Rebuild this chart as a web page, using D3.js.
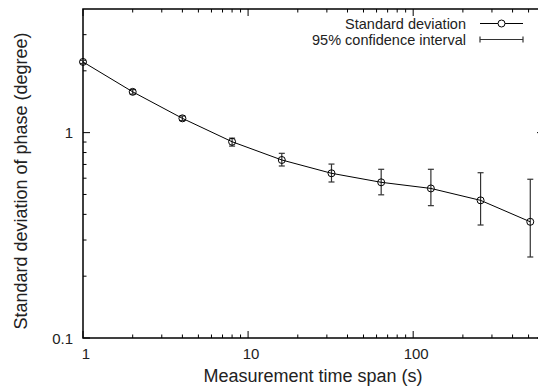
<!DOCTYPE html>
<html>
<head>
<meta charset="utf-8">
<script src="https://cdn.jsdelivr.net/npm/d3@7"></script>
<style>
  html, body { margin: 0; padding: 0; background: #fff; }
  svg { display: block; font-family: "Liberation Sans", Arial, Helvetica, sans-serif; }
</style>
</head>
<body>
<svg id="chart" width="538" height="387"></svg>
<script>
// Measurement time spans (s)
const spans = [1, 2, 4, 8, 16, 32, 64, 128, 256, 512];
// Standard deviation of phase (degree)
const stdDev = [2.21, 1.58, 1.174, 0.903, 0.736, 0.634, 0.573, 0.535, 0.468, 0.368];
// 95% confidence interval bounds
const ciLow  = [2.17, 1.54, 1.145, 0.86, 0.688, 0.575, 0.498, 0.441, 0.355, 0.248];
const ciHigh = [2.25, 1.62, 1.205, 0.94, 0.793, 0.703, 0.663, 0.663, 0.638, 0.593];
// Axis ticks
const xTickLabels = [1, 10, 100];
const yTickLabels = [0.1, 1];

const svg = d3.select("#chart");
const m = { left: 83, right: 544, top: 9, bottom: 338 };

const x = d3.scaleLog().domain([1, 620]).range([m.left, m.right]);
const y = d3.scaleLog().domain([0.1, 4]).range([m.bottom, m.top]);

const points = spans.map((s, i) => ({ s, v: stdDev[i], lo: ciLow[i], hi: ciHigh[i] }));

// minor ticks for a log scale, restricted to the domain
function minorTicks(scale) {
  const [a, b] = scale.domain();
  const out = [];
  for (let e = Math.floor(Math.log10(a)); e <= Math.ceil(Math.log10(b)); e++) {
    for (let k = 2; k <= 9; k++) {
      const v = k * Math.pow(10, e);
      if (v > a && v < b) out.push(v);
    }
  }
  return out;
}

const axisG = svg.append("g").attr("stroke", "#000").attr("stroke-width", 1);

// major and minor ticks, mirrored on opposite sides, pointing inward
const xTickSets = [
  ...xTickLabels.map(v => ({ v, len: 7 })), ...minorTicks(x).map(v => ({ v, len: 3.5 }))
];
xTickSets.forEach(t => {
  const px = x(t.v);
  axisG.append("line").attr("x1", px).attr("x2", px).attr("y1", m.bottom).attr("y2", m.bottom - t.len);
  axisG.append("line").attr("x1", px).attr("x2", px).attr("y1", m.top).attr("y2", m.top + t.len);
});
const yTickSets = [
  ...yTickLabels.map(v => ({ v, len: 7 })), ...minorTicks(y).map(v => ({ v, len: 3.5 }))
];
yTickSets.forEach(t => {
  const py = y(t.v);
  axisG.append("line").attr("x1", m.left).attr("x2", m.left + t.len).attr("y1", py).attr("y2", py);
  axisG.append("line").attr("x1", m.right).attr("x2", m.right - t.len).attr("y1", py).attr("y2", py);
});

// plot frame
svg.append("rect")
  .attr("x", m.left).attr("y", m.top)
  .attr("width", m.right - m.left).attr("height", m.bottom - m.top)
  .attr("fill", "none").attr("stroke", "#000").attr("stroke-width", 1.5);

// tick labels
svg.append("g").selectAll("text").data(xTickLabels).join("text")
  .attr("x", d => x(d) + 3).attr("y", 358.5)
  .attr("text-anchor", "middle").attr("font-size", 15).attr("fill", "#222")
  .text(d => d3.format("~g")(d));
svg.append("g").selectAll("text").data(yTickLabels).join("text")
  .attr("x", 73).attr("y", d => y(d) + 5.5)
  .attr("text-anchor", "end").attr("font-size", 15).attr("fill", "#222")
  .text(d => d3.format("~g")(d));

// axis titles
svg.append("text")
  .attr("x", 313).attr("y", 382)
  .attr("text-anchor", "middle").attr("font-size", 18).attr("fill", "#222")
  .text("Measurement time span (s)");
svg.append("text")
  .attr("transform", "translate(27, 181) rotate(-90)")
  .attr("text-anchor", "middle").attr("font-size", 18).attr("fill", "#222")
  .text("Standard deviation of phase (degree)");

// error bars
const cap = 3;
const eb = svg.append("g").attr("stroke", "#333").attr("stroke-width", 1.2);
points.forEach(p => {
  const px = x(p.s);
  eb.append("line").attr("x1", px).attr("x2", px).attr("y1", y(p.lo)).attr("y2", y(p.hi));
  eb.append("line").attr("x1", px - cap).attr("x2", px + cap).attr("y1", y(p.lo)).attr("y2", y(p.lo));
  eb.append("line").attr("x1", px - cap).attr("x2", px + cap).attr("y1", y(p.hi)).attr("y2", y(p.hi));
});

// line through the standard deviation values
svg.append("path")
  .datum(points)
  .attr("d", d3.line().x(d => x(d.s)).y(d => y(d.v)))
  .attr("fill", "none").attr("stroke", "#000").attr("stroke-width", 1);

// open circle markers
svg.append("g").selectAll("circle").data(points).join("circle")
  .attr("cx", d => x(d.s)).attr("cy", d => y(d.v)).attr("r", 3.5)
  .attr("fill", "none").attr("stroke", "#000").attr("stroke-width", 1);

// legend
const lg = svg.append("g");
const lx0 = 480, lx1 = 523;
lg.append("text").attr("x", 466).attr("y", 28.5).attr("text-anchor", "end")
  .attr("font-size", 14.5).attr("fill", "#222").text("Standard deviation");
lg.append("line").attr("x1", lx0).attr("x2", lx1).attr("y1", 23.5).attr("y2", 23.5)
  .attr("stroke", "#000").attr("stroke-width", 1);
lg.append("circle").attr("cx", (lx0 + lx1) / 2).attr("cy", 23.5).attr("r", 3.5)
  .attr("fill", "#fff").attr("stroke", "#000").attr("stroke-width", 1);
lg.append("text").attr("x", 466).attr("y", 45).attr("text-anchor", "end")
  .attr("font-size", 14.5).attr("fill", "#222").text("95% confidence interval");
lg.append("line").attr("x1", lx0).attr("x2", lx1).attr("y1", 39.5).attr("y2", 39.5)
  .attr("stroke", "#333").attr("stroke-width", 1.2);
[lx0, lx1].forEach(lx => lg.append("line").attr("x1", lx).attr("x2", lx).attr("y1", 36.5).attr("y2", 42.5)
  .attr("stroke", "#333").attr("stroke-width", 1.2));
</script>
</body>
</html>
